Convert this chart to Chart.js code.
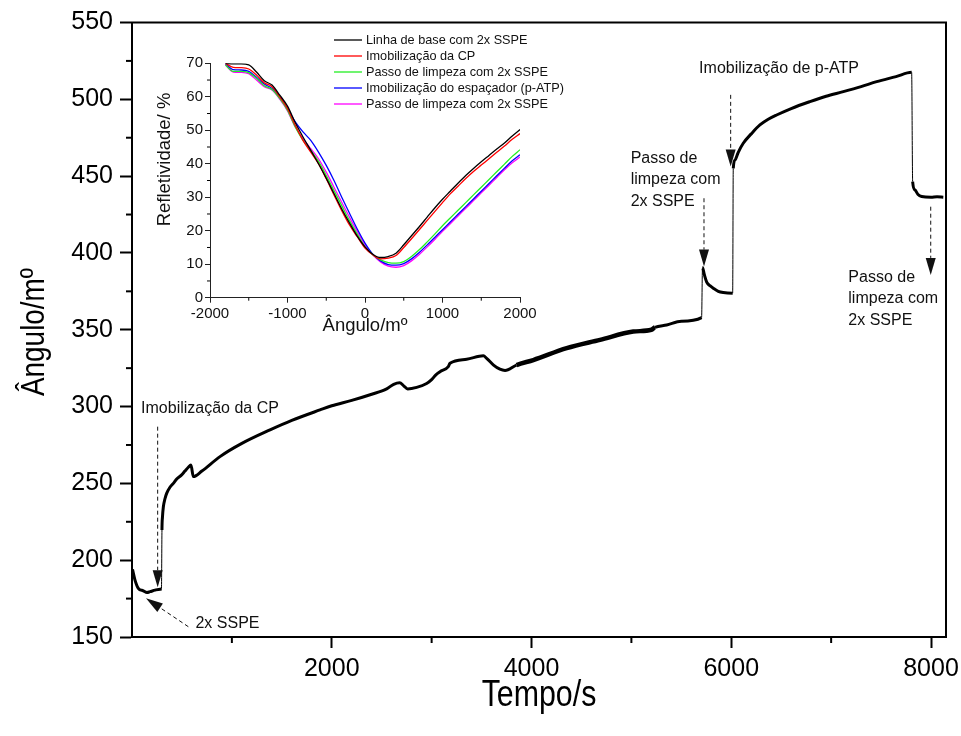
<!DOCTYPE html>
<html>
<head>
<meta charset="utf-8">
<script src="https://cdn.jsdelivr.net/npm/chart.js@4.4.1/dist/chart.umd.min.js"></script>
<style>
  body { margin: 0; background: #fff; }
  #wrap { position: relative; width: 961px; height: 736px; }
  #mainChart { position: absolute; left: 0; top: 0; }
  #insetChart { position: absolute; left: 150px; top: 25px; }
</style>
</head>
<body>
<div id="wrap">
  <canvas id="mainChart" width="961" height="736"></canvas>
  <canvas id="insetChart" width="450" height="320"></canvas>
</div>
<script>
// curva principal: tempo (s) x ângulo (m°)
const tempo = [5, 30, 63, 113, 150, 180, 230, 264, 295, 300, 305, 314, 330, 347, 380, 414, 450, 497, 530, 564,
  590, 614, 700, 881, 1100, 1382, 1600, 1882, 2000, 2200, 2400, 2550, 2620, 2680, 2720, 2760, 2850, 2950, 3000, 3040,
  3084, 3167, 3184, 3351, 3518, 3551, 3620, 3684, 3735, 3850, 4018, 4352, 4686, 5019, 5200, 5236, 5353, 5500, 5703, 5712,
  5730, 5754, 5790, 5820, 5870, 5920, 6014, 6020, 6037, 6070, 6120, 6200, 6287, 6370, 6454, 6600, 6788, 6950, 7122, 7300,
  7456, 7650, 7806, 7816, 7839, 7870, 7906, 8000, 8060, 8123];
const angulo = [194, 187, 181.7, 180.1, 179, 179.5, 180.5, 181, 181.3, 219.7, 228, 234.8, 240, 243.5, 247.5, 250, 253, 255.5, 258, 260.5,
  262, 254.4, 258, 267.4, 276, 284.8, 291, 297.8, 300.5, 304, 308, 311.5, 314.5, 315.5, 313.5, 311.5, 312.5, 315, 317.5, 320.5,
  322.7, 326, 328.2, 330.8, 333, 331.4, 327, 324.3, 323.5, 327, 330.3, 338, 343.4, 348.8, 350, 351.6, 353.1, 355.5, 357.9, 390.5,
  386, 381, 378.5, 377, 375, 374.2, 373.8, 455.1, 460.5, 465.5, 471.4, 477.5, 483.3, 487, 489.8, 494, 498.5, 502, 505, 508.3,
  511.5, 514.8, 517.6, 446.4, 441, 438, 436.7, 436.2, 436.6, 436.3];
const tempoTicks = [2000, 4000, 6000, 8000];
const tempoMinor = [1000, 3000, 5000, 7000];
const anguloMinor = [175, 225, 275, 325, 375, 425, 475, 525];

// inserto: refletividade x ângulo
const insetAngulo = [-1800, -1700, -1600, -1500, -1400, -1300, -1200, -1100, -1000, -900,
  -800, -700, -600, -500, -400, -300, -200, -100, 0, 100,
  200, 300, 400, 500, 600, 700, 800, 900, 1000, 1100,
  1200, 1300, 1400, 1500, 1600, 1700, 1800, 1900, 2000];
const linhaBase = [70, 69.8, 69.8, 69.5, 67.4, 64.8, 63.5, 60.5, 57.2, 52.3,
  48, 44, 40, 35.7, 31.1, 26.5, 22.3, 18.4, 15.2, 13,
  12, 12.3, 13.3, 15.8, 18.5, 21.2, 24, 26.8, 29.4, 31.8,
  34.2, 36.5, 38.6, 40.6, 42.5, 44.4, 46.2, 48.3, 50.2];
const imobCP = [70, 68.8, 68.7, 68.3, 66.5, 64.2, 63, 60, 56.5, 51.5,
  47, 43.5, 40, 35.5, 30.7, 26, 21.7, 18.2, 14.8, 12.8,
  11.6, 11.8, 12.6, 15, 17.6, 20.3, 23, 25.7, 28.4, 31,
  33.3, 35.6, 37.7, 39.6, 41.5, 43.4, 45.3, 47.3, 49];
const limpeza1 = [69.5, 67.6, 67.6, 67.2, 65.5, 63.3, 62.2, 59.5, 56, 51,
  47, 44, 40.7, 36.5, 32, 27.5, 23, 19, 15.2, 12.8,
  11.3, 10.5, 10.3, 10.8, 12.3, 14.3, 16.6, 19, 21.5, 23.8,
  26.1, 28.4, 30.7, 33, 35.3, 37.6, 39.9, 42.2, 44.2];
const imobEspacador = [69.8, 68.1, 68, 67.6, 65.8, 63.8, 62.5, 60, 56.5, 52.5,
  49.5, 47, 43.5, 39.5, 35, 30, 25.2, 20.5, 16.3, 13,
  11, 9.9, 9.7, 10.2, 11.6, 13.5, 15.7, 18, 20.3, 22.6,
  24.9, 27.2, 29.5, 31.8, 34.1, 36.4, 38.7, 40.9, 42.7];
const limpeza2 = [69.5, 67.4, 67.3, 66.9, 65, 63, 62, 59.3, 55.8, 51,
  47.5, 44.5, 41.5, 37.5, 33, 28.5, 24, 19.8, 15.8, 12.8,
  10.7, 9.4, 9.1, 9.6, 11, 12.9, 15.1, 17.4, 19.8, 22.1,
  24.4, 26.7, 29, 31.3, 33.6, 35.9, 38.2, 40.3, 42];
const insetLabels = ["Linha de base com 2x SSPE", "Imobilização da CP", "Passo de limpeza com 2x SSPE",
  "Imobilização do espaçador (p-ATP)", "Passo de limpeza com 2x SSPE"];
const insetCores = ["#000000", "#ff0000", "#22ee22", "#0000ff", "#ff00ff"];
const insetTicksMinorX = [-1500, -500, 500, 1500];
const insetTicksMinorY = [5, 15, 25, 35, 45, 55, 65];

// anotações e setas (em unidades dos eixos)
const notas = [
  { linhas: ["Imobilização da CP"], t: 781, v: 298.4, align: "center" },
  { linhas: ["2x SSPE"], t: 956, v: 158.9, align: "center" },
  { linhas: ["Passo de", "limpeza com", "2x SSPE"], t: 4993, v: 461.7, align: "left" },
  { linhas: ["Imobilização de p-ATP"], t: 6478, v: 520.2, align: "center" },
  { linhas: ["Passo de", "limpeza com", "2x SSPE"], t: 7172, v: 384.2, align: "left" },
];
const setas = [
  { t0: 257, v0: 286.9, t1: 257, v1: 182.4 },
  { t0: 564, v0: 156.7, t1: 140, v1: 175.2 },
  { t0: 5727, v0: 435.6, t1: 5727, v1: 391.1 },
  { t0: 5994, v0: 502.9, t1: 5994, v1: 456.2 },
  { t0: 7997, v0: 430.1, t1: 7997, v1: 385.7 },
];

const FONTE = "'Liberation Sans', Arial, sans-serif";

function ticksMenores(id, xVals, yVals, len, largura) {
  return {
    id: id,
    afterDraw(chart) {
      const ctx = chart.ctx;
      const sx = chart.scales.x, sy = chart.scales.y;
      ctx.save();
      ctx.strokeStyle = "#000";
      ctx.lineWidth = largura;
      xVals.forEach(v => {
        const p = sx.getPixelForValue(v);
        ctx.beginPath(); ctx.moveTo(p, sx.top); ctx.lineTo(p, sx.top + len); ctx.stroke();
      });
      yVals.forEach(v => {
        const p = sy.getPixelForValue(v);
        ctx.beginPath(); ctx.moveTo(sy.right, p); ctx.lineTo(sy.right - len, p); ctx.stroke();
      });
      ctx.restore();
    }
  };
}

const caixa = {
  id: "caixa",
  afterDraw(chart) {
    const a = chart.chartArea, ctx = chart.ctx;
    ctx.save();
    ctx.strokeStyle = "#000";
    ctx.lineWidth = 2;
    ctx.strokeRect(a.left, a.top, a.right - a.left, a.bottom - a.top);
    ctx.restore();
  }
};

// escreve um texto, girado e/ou estreitado
function texto(ctx, s, x, y, px, rot, estreito, cor) {
  ctx.save();
  ctx.fillStyle = cor;
  ctx.textAlign = "center";
  ctx.textBaseline = "middle";
  ctx.font = px + "px " + FONTE;
  ctx.translate(x, y);
  if (rot) ctx.rotate(rot);
  ctx.scale(estreito, 1);
  ctx.fillText(s, 0, 0);
  ctx.restore();
}

// títulos dos eixos em fonte estreita (Arial Narrow no original)
const titulosEstreitos = {
  id: "titulosEstreitos",
  afterDraw(chart) {
    texto(chart.ctx, "Tempo/s", 539, 696, 37, 0, 0.82, "#000");
    texto(chart.ctx, "Ângulo/mº", 35, 332, 34, -Math.PI / 2, 0.82, "#000");
  }
};

function desenhaSeta(ctx, x0, y0, x1, y1) {
  const ang = Math.atan2(y1 - y0, x1 - x0);
  const L = 17, W = 5;
  const bx = x1 - L * Math.cos(ang), by = y1 - L * Math.sin(ang);
  ctx.setLineDash([4, 3]);
  ctx.lineWidth = 1;
  ctx.beginPath(); ctx.moveTo(x0, y0); ctx.lineTo(bx, by); ctx.stroke();
  ctx.setLineDash([]);
  ctx.beginPath();
  ctx.moveTo(x1, y1);
  ctx.lineTo(bx + W * Math.sin(ang), by - W * Math.cos(ang));
  ctx.lineTo(bx - W * Math.sin(ang), by + W * Math.cos(ang));
  ctx.closePath();
  ctx.fill();
}

const anotacoes = {
  id: "anotacoes",
  afterDraw(chart) {
    const ctx = chart.ctx, sx = chart.scales.x, sy = chart.scales.y;
    ctx.save();
    ctx.fillStyle = "#111";
    ctx.strokeStyle = "#111";
    ctx.font = "16px " + FONTE;
    ctx.textBaseline = "middle";
    notas.forEach(n => {
      ctx.textAlign = n.align;
      const x = sx.getPixelForValue(n.t), y = sy.getPixelForValue(n.v);
      n.linhas.forEach((l, i) => ctx.fillText(l, x, y + i * 21.5));
    });
    setas.forEach(s => desenhaSeta(ctx,
      sx.getPixelForValue(s.t0), sy.getPixelForValue(s.v0),
      sx.getPixelForValue(s.t1), sy.getPixelForValue(s.v1)));
    ctx.restore();
  }
};

// gráfico principal
new Chart(document.getElementById("mainChart"), {
  type: "line",
  data: {
    datasets: [{
      data: tempo.map((t, i) => ({ x: t, y: angulo[i] })),
      borderColor: "#000",
      borderWidth: 3,
      pointRadius: 0,
      cubicInterpolationMode: "monotone",
      segment: {
        borderWidth: ctx => {
          if (Math.abs(ctx.p1.parsed.y - ctx.p0.parsed.y) > 25) return 1;
          if (ctx.p0.parsed.x >= 3850 && ctx.p1.parsed.x <= 5240) return 4.5;
          return 3;
        }
      }
    }]
  },
  options: {
    responsive: false,
    animation: false,
    events: [],
    layout: { padding: { left: 0, right: 15, top: 22.5, bottom: 0 } },
    plugins: { legend: { display: false }, tooltip: { enabled: false } },
    scales: {
      x: {
        type: "linear",
        min: 0,
        max: 8150,
        afterBuildTicks: s => { s.ticks = tempoTicks.map(v => ({ value: v })); },
        afterFit: s => { s.height = 99; s.paddingLeft = 0; s.paddingRight = 0; },
        grid: { drawOnChartArea: false, tickLength: 11, tickWidth: 2, tickColor: "#000" },
        border: { color: "#000", width: 2 },
        ticks: { color: "#000", autoSkip: false, maxRotation: 0, padding: 6,
          font: { family: FONTE, size: 25 }, callback: v => String(v) }
      },
      y: {
        min: 150,
        max: 550,
        afterFit: s => { s.width = 132; s.paddingTop = 0; s.paddingBottom = 0; },
        grid: { drawOnChartArea: false, tickLength: 12, tickWidth: 2, tickColor: "#000" },
        border: { color: "#000", width: 2 },
        ticks: { stepSize: 50, color: "#000", padding: 7,
          font: { family: FONTE, size: 25 }, callback: v => String(v) }
      }
    }
  },
  plugins: [ticksMenores("menoresPrincipal", tempoMinor, anguloMinor, 6, 2), caixa, titulosEstreitos, anotacoes]
});

// legenda e título vertical do inserto
const legendaInserto = {
  id: "legendaInserto",
  afterDraw(chart) {
    const ctx = chart.ctx;
    texto(ctx, "Refletividade/ %", 15, 134.5, 18.5, -Math.PI / 2, 1, "#111");
    ctx.save();
    ctx.font = "12.7px " + FONTE;
    ctx.textBaseline = "middle";
    ctx.textAlign = "left";
    chart.data.datasets.forEach((ds, i) => {
      const y = 15 + i * 16;
      ctx.strokeStyle = ds.borderColor;
      ctx.lineWidth = 1.3;
      ctx.beginPath(); ctx.moveTo(184, y); ctx.lineTo(212, y); ctx.stroke();
      ctx.fillStyle = "#111";
      ctx.fillText(ds.label, 216, y);
    });
    ctx.restore();
  }
};

const seriesInserto = [linhaBase, imobCP, limpeza1, imobEspacador, limpeza2];

new Chart(document.getElementById("insetChart"), {
  type: "line",
  data: {
    datasets: seriesInserto.map((serie, k) => ({
      label: insetLabels[k],
      data: insetAngulo.map((a, i) => ({ x: a, y: serie[i] })),
      borderColor: insetCores[k],
      borderWidth: 1.3,
      pointRadius: 0,
      cubicInterpolationMode: "monotone"
    }))
  },
  options: {
    responsive: false,
    animation: false,
    events: [],
    layout: { padding: { left: 0, right: 80, top: 38.3, bottom: 0 } },
    plugins: { legend: { display: false }, tooltip: { enabled: false } },
    scales: {
      x: {
        type: "linear",
        min: -2000,
        max: 2000,
        afterFit: s => { s.height = 47.3; s.paddingLeft = 0; s.paddingRight = 0; },
        grid: { drawOnChartArea: false, tickLength: 5, tickWidth: 1, tickColor: "#222" },
        border: { color: "#222", width: 1 },
        ticks: { stepSize: 1000, color: "#111", autoSkip: false, maxRotation: 0, padding: 2,
          font: { family: FONTE, size: 15 }, callback: v => String(v) },
        title: { display: true, text: "Ângulo/mº", color: "#111",
          font: { family: FONTE, size: 18.5 }, padding: { top: 0, bottom: 8 } }
      },
      y: {
        min: 0,
        max: 70,
        afterFit: s => { s.width = 60; s.paddingTop = 0; s.paddingBottom = 0; },
        grid: { drawOnChartArea: false, tickLength: 5, tickWidth: 1, tickColor: "#222" },
        border: { color: "#222", width: 1 },
        ticks: { stepSize: 10, color: "#111", padding: 2,
          font: { family: FONTE, size: 15 }, callback: v => String(v) }
      }
    }
  },
  plugins: [ticksMenores("menoresInserto", insetTicksMinorX, insetTicksMinorY, 3, 1), legendaInserto]
});
</script>
</body>
</html>
